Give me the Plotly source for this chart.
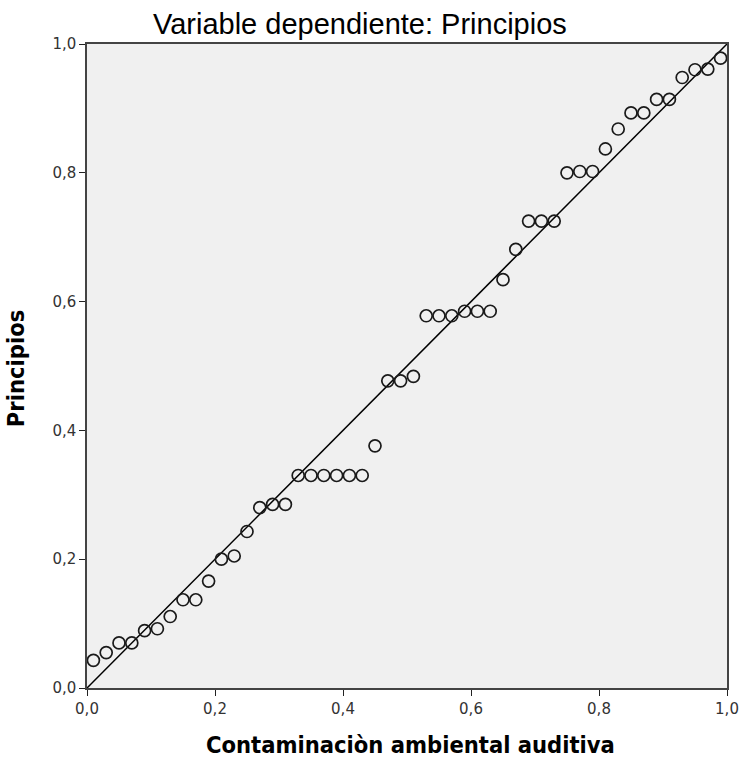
import plotly.graph_objects as go

obs_prob = [0.01, 0.03, 0.05, 0.07, 0.09, 0.11, 0.13, 0.15, 0.17, 0.19,
            0.21, 0.23, 0.25, 0.27, 0.29, 0.31, 0.33, 0.35, 0.37, 0.39,
            0.41, 0.43, 0.45, 0.47, 0.49, 0.51, 0.53, 0.55, 0.57, 0.59,
            0.61, 0.63, 0.65, 0.67, 0.69, 0.71, 0.73, 0.75, 0.77, 0.79,
            0.81, 0.83, 0.85, 0.87, 0.89, 0.91, 0.93, 0.95, 0.97, 0.99]
exp_prob = [0.043, 0.055, 0.070, 0.070, 0.089, 0.092, 0.111, 0.137, 0.137, 0.166,
            0.200, 0.205, 0.243, 0.280, 0.285, 0.285, 0.330, 0.330, 0.330, 0.330,
            0.330, 0.330, 0.376, 0.477, 0.477, 0.484, 0.578, 0.578, 0.578, 0.585,
            0.585, 0.585, 0.634, 0.681, 0.725, 0.725, 0.725, 0.800, 0.802, 0.802,
            0.837, 0.868, 0.893, 0.893, 0.914, 0.914, 0.948, 0.960, 0.961, 0.978]
ref_line = [0.0, 1.0]
ticks = [0.0, 0.2, 0.4, 0.6, 0.8, 1.0]

title = "Variable dependiente: Principios"
x_title = "Contaminaciòn ambiental auditiva"
y_title = "Principios"

fig = go.Figure()
fig.add_trace(go.Scatter(x=ref_line, y=ref_line, mode="lines",
                         line=dict(color="black", width=1.5),
                         hoverinfo="skip", showlegend=False))
fig.add_trace(go.Scatter(x=obs_prob, y=exp_prob, mode="markers",
                         marker=dict(symbol="circle-open", size=12,
                                     color="#1a1a1a", line=dict(width=1.7)),
                         showlegend=False))

axis_common = dict(range=[0, 1], tickvals=ticks, tickformat=".1f",
                   ticks="outside", ticklen=6, tickcolor="#222",
                   showgrid=False, zeroline=False, showline=True,
                   linecolor="#444", linewidth=1.5, mirror=True,
                   automargin=False,
                   tickfont=dict(family="DejaVu Sans", size=15, color="#333"))

fig.update_layout(
    width=741, height=762,
    margin=dict(l=87, r=14, t=44, b=74),
    plot_bgcolor="#F0F0F0", paper_bgcolor="white",
    separators=",.",
    xaxis=dict(**axis_common),
    yaxis=dict(**axis_common),
    annotations=[
        dict(text=title, x=0.427, y=1, xref="paper", yref="paper",
             xanchor="center", yanchor="middle", yshift=20, showarrow=False,
             font=dict(family="Arial, Liberation Sans", size=29, color="black")),
        dict(text="<b>" + x_title + "</b>", x=0.505, y=0, xref="paper", yref="paper",
             xanchor="center", yanchor="middle", yshift=-57, showarrow=False,
             font=dict(family="DejaVu Sans Condensed", size=23.5, color="black")),
        dict(text="<b>" + y_title + "</b>", x=0, y=0.495, xref="paper", yref="paper",
             xanchor="center", yanchor="middle", xshift=-71, textangle=-90,
             showarrow=False,
             font=dict(family="DejaVu Sans Condensed", size=23.5, color="black")),
    ],
)

fig.write_html("out.html",
               config={"displayModeBar": False},
               post_script="document.body.style.margin='0';document.body.style.overflow='hidden';")
